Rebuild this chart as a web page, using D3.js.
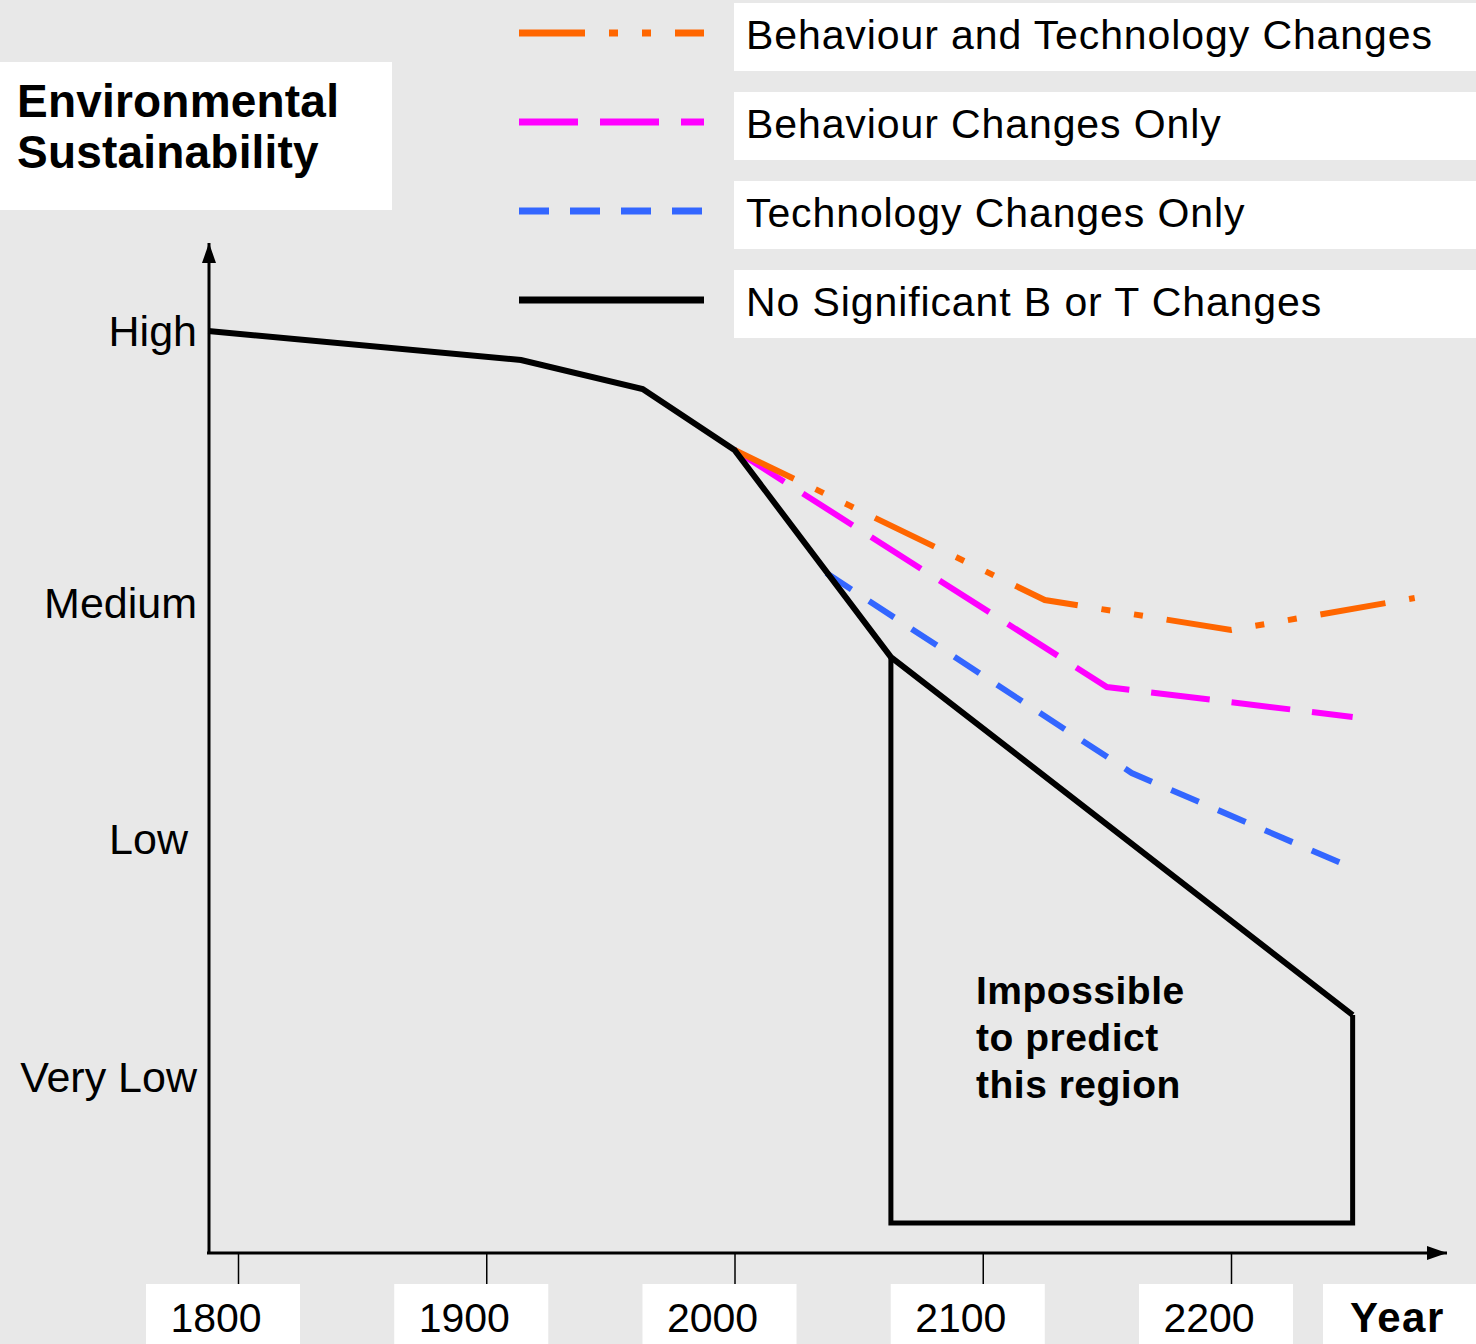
<!DOCTYPE html>
<html>
<head>
<meta charset="utf-8">
<script src="https://cdn.jsdelivr.net/npm/d3@7"></script>
<style>
  body { margin: 0; background: #e8e8e8; }
  svg { display: block; font-family: "Liberation Sans", Arial, sans-serif; }
</style>
</head>
<body>
<div id="chart"></div>
<script>
// x tick years and the sustainability levels on the y axis
const tickYears = [1800, 1900, 2000, 2100, 2200];
const levelNames = ['High', 'Medium', 'Low', 'Very Low'];
const levelValues = [92.1, 64.9, 41.3, 17.5];

// scenario lines (year, sustainability score 0-100)
const noChangeYears = [1788, 1914, 1963, 2000, 2063, 2249];
const noChangeValues = [92.2, 89.3, 86.4, 80.3, 59.6, 23.8];

const bothYears = [2000, 2125, 2200, 2274];
const bothValues = [80.3, 65.3, 62.3, 65.5];

const behaviourYears = [2000, 2150, 2249];
const behaviourValues = [80.3, 56.6, 53.6];

const techYears = [2037, 2160, 2249];
const techValues = [68.0, 48.0, 38.5];

// "impossible to predict" region outline
const regionYears = [2063, 2063, 2249, 2249];
const regionValues = [59.6, 3.0, 3.0, 23.8];

const legendNames = ['Behaviour and Technology Changes', 'Behaviour Changes Only',
                     'Technology Changes Only', 'No Significant B or T Changes'];
const legendColors = ['#ff6600', '#ff00ff', '#3366ff', '#000000'];
const legendDashes = ['66,24,9,24,9,24', '59,22', '30,21', null];

const W = 1476, H = 1344;

const svg = d3.select('#chart').append('svg')
    .attr('width', W)
    .attr('height', H);

svg.append('rect').attr('width', W).attr('height', H).attr('fill', '#e8e8e8');

const x = d3.scaleLinear().domain([1800, 2200]).range([238, 1231]);
const y = d3.scaleLinear().domain([0, 100]).range([1253, 253]);

// arrow heads
const defs = svg.append('defs');
defs.append('marker')
    .attr('id', 'arrow')
    .attr('viewBox', '0 0 20 14')
    .attr('refX', 20).attr('refY', 7)
    .attr('markerWidth', 20).attr('markerHeight', 14)
    .attr('markerUnits', 'userSpaceOnUse')
    .attr('orient', 'auto')
    .append('path')
    .attr('d', 'M0,0L20,7L0,14Z')
    .attr('fill', '#000');

// title box
svg.append('rect').attr('x', 0).attr('y', 62).attr('width', 392).attr('height', 148).attr('fill', '#fff');
svg.append('text')
    .attr('x', 17).attr('y', 117)
    .style('font-size', '46px').style('font-weight', 'bold')
    .style('letter-spacing', '0.2px')
    .text('Environmental');
svg.append('text')
    .attr('x', 17).attr('y', 168)
    .style('font-size', '46px').style('font-weight', 'bold')
    .style('letter-spacing', '0.2px')
    .text('Sustainability');

// legend
const legend = svg.append('g');
legendNames.forEach((name, i) => {
    const top = 3 + i * 89;
    legend.append('rect')
        .attr('x', 734).attr('y', top)
        .attr('width', W - 734).attr('height', 68)
        .attr('fill', '#fff');
    legend.append('line')
        .attr('x1', 519).attr('x2', 704)
        .attr('y1', top + 30).attr('y2', top + 30)
        .attr('stroke', legendColors[i])
        .attr('stroke-width', 7)
        .attr('stroke-dasharray', legendDashes[i]);
    legend.append('text')
        .attr('x', 746).attr('y', top + 46)
        .style('font-size', '41px')
        .style('letter-spacing', '0.9px')
        .text(name);
});

// x axis: ticks and boxed labels
const xAxis = svg.append('g')
    .attr('transform', 'translate(0,1253)')
    .call(d3.axisBottom(x).tickValues(tickYears).tickSize(31).tickFormat(''));
xAxis.select('.domain').remove();
xAxis.selectAll('.tick line').attr('stroke', '#000').attr('stroke-width', 1.5);

const xLabels = svg.append('g');
tickYears.forEach(t => {
    xLabels.append('rect')
        .attr('x', x(t) - 92).attr('y', 1284)
        .attr('width', 154).attr('height', 60)
        .attr('fill', '#fff');
    xLabels.append('text')
        .attr('x', x(t) - 22).attr('y', 1332)
        .attr('text-anchor', 'middle')
        .style('font-size', '41px')
        .text(t);
});
xLabels.append('rect')
    .attr('x', 1323).attr('y', 1284)
    .attr('width', W - 1323).attr('height', 60)
    .attr('fill', '#fff');
xLabels.append('text')
    .attr('x', 1350).attr('y', 1332)
    .style('font-size', '42px').style('font-weight', 'bold')
    .style('letter-spacing', '1.5px')
    .text('Year');

// y axis labels
const yAxis = svg.append('g')
    .attr('transform', 'translate(209,0)')
    .call(d3.axisLeft(y).tickValues(levelValues).tickSize(0).tickPadding(12)
        .tickFormat((d, i) => levelNames[i]));
yAxis.select('.domain').remove();
yAxis.selectAll('.tick text')
    .attr('fill', '#000')
    .attr('dx', (d, i) => levelNames[i] === 'Low' ? -9 : 0)
    .style('font-size', '43px')
    .style('font-family', '"Liberation Sans", Arial, sans-serif');

// axis lines with arrows
svg.append('line')
    .attr('x1', 209).attr('y1', 1254)
    .attr('x2', 209).attr('y2', 243)
    .attr('stroke', '#000').attr('stroke-width', 3)
    .attr('marker-end', 'url(#arrow)');
svg.append('line')
    .attr('x1', 207).attr('y1', 1253)
    .attr('x2', 1447).attr('y2', 1253)
    .attr('stroke', '#000').attr('stroke-width', 3)
    .attr('marker-end', 'url(#arrow)');

const line = d3.line()
    .x(d => x(d[0]))
    .y(d => y(d[1]));

const zip = (a, b) => a.map((v, i) => [v, b[i]]);

// region outline
svg.append('path')
    .datum(zip(regionYears, regionValues))
    .attr('d', line)
    .attr('fill', 'none')
    .attr('stroke', '#000')
    .attr('stroke-width', 5);

const series = [
    { years: techYears, values: techValues, color: legendColors[2], dash: legendDashes[2] },
    { years: behaviourYears, values: behaviourValues, color: legendColors[1], dash: legendDashes[1] },
    { years: bothYears, values: bothValues, color: legendColors[0], dash: legendDashes[0] },
    { years: noChangeYears, values: noChangeValues, color: legendColors[3], dash: null }
];

series.forEach(s => {
    svg.append('path')
        .datum(zip(s.years, s.values))
        .attr('d', line)
        .attr('fill', 'none')
        .attr('stroke', s.color)
        .attr('stroke-width', s.dash ? 6 : 6)
        .attr('stroke-dasharray', s.dash);
});

// annotation
const note = svg.append('text')
    .attr('x', 976)
    .style('font-size', '39px')
    .style('font-weight', 'bold')
    .style('letter-spacing', '0.5px');
['Impossible', 'to predict', 'this region'].forEach((t, i) => {
    note.append('tspan').attr('x', 976).attr('y', 1004 + i * 47).text(t);
});
</script>
</body>
</html>
